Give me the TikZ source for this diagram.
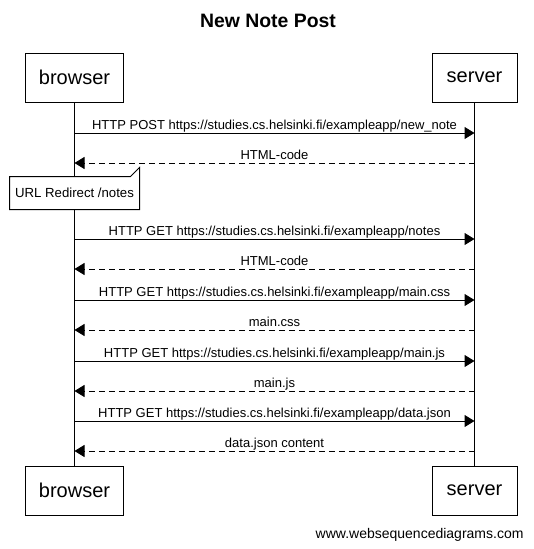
\documentclass[tikz,border=0pt]{standalone}
\usepackage{fontspec}
\setmainfont{Liberation Sans}
\usetikzlibrary{arrows.meta}
\begin{document}
\begin{tikzpicture}[x=1pt,y=-1pt,line width=1pt,
    actor/.style={draw,fill=white,minimum width=98pt,minimum height=49pt,inner sep=0pt,
      font=\fontsize{20}{23}\selectfont},
    msg/.style={-{Triangle[length=10pt,width=12pt]}},
    reply/.style={msg,dash pattern=on 6pt off 4pt},
    lbl/.style={anchor=base,yshift=4pt,inner sep=0pt,font=\fontsize{13}{16}\selectfont}]
  \useasboundingbox (0,0) rectangle (533,549);
  \node[font=\bfseries\fontsize{19.4}{22}\selectfont] (title) at (268,21) {New Note Post};
  % participants
  \node[actor] (bt) at (74.5,77.5) {browser};
  \node[actor,minimum width=85pt] (st) at (474.5,77.5) {server};
  \node[actor] (bb) at (74.5,490.5) {browser};
  \node[actor,minimum width=85pt] (sb) at (474.5,490.5) {server};
  \draw (bt) -- (bb);
  \draw (st) -- (sb);
  % points on the lifelines
  \foreach \n/\y in {1/133,2/163,3/239,4/269,5/300,6/330,7/361,8/391,9/421,10/451} {
    \coordinate (b\n) at (74.5,\y);
    \coordinate (s\n) at (474.5,\y);
  }
  \draw[msg] (b1) -- node[lbl] {HTTP POST https://studies.cs.helsinki.fi/exampleapp/new\_note} (s1);
  \draw[reply] (s2) -- node[lbl] {HTML-code} (b2);
  % note
  \node[inner sep=0pt,minimum width=129pt,minimum height=32pt,
    font=\fontsize{13.2}{15}\selectfont] (note) at (74.5,193) {};
  \draw[fill=white] (note.north west) -- ([xshift=-9pt]note.north east)
    -- ([yshift=9pt]note.north east) -- (note.south east) -- (note.south west) -- cycle;
  \node[inner sep=0pt,font=\fontsize{13.2}{15}\selectfont] at (note) {URL Redirect /notes};
  \draw[msg] (b3) -- node[lbl] {HTTP GET https://studies.cs.helsinki.fi/exampleapp/notes} (s3);
  \draw[reply] (s4) -- node[lbl] {HTML-code} (b4);
  \draw[msg] (b5) -- node[lbl] {HTTP GET https://studies.cs.helsinki.fi/exampleapp/main.css} (s5);
  \draw[reply] (s6) -- node[lbl] {main.css} (b6);
  \draw[msg] (b7) -- node[lbl] {HTTP GET https://studies.cs.helsinki.fi/exampleapp/main.js} (s7);
  \draw[reply] (s8) -- node[lbl] {main.js} (b8);
  \draw[msg] (b9) -- node[lbl] {HTTP GET https://studies.cs.helsinki.fi/exampleapp/data.json} (s9);
  \draw[reply] (s10) -- node[lbl] {data.json content} (b10);
  \node[anchor=base east,inner sep=0pt,font=\fontsize{14}{16}\selectfont] (credit) at (524,538)
    {www.websequencediagrams.com};
\end{tikzpicture}
\end{document}
